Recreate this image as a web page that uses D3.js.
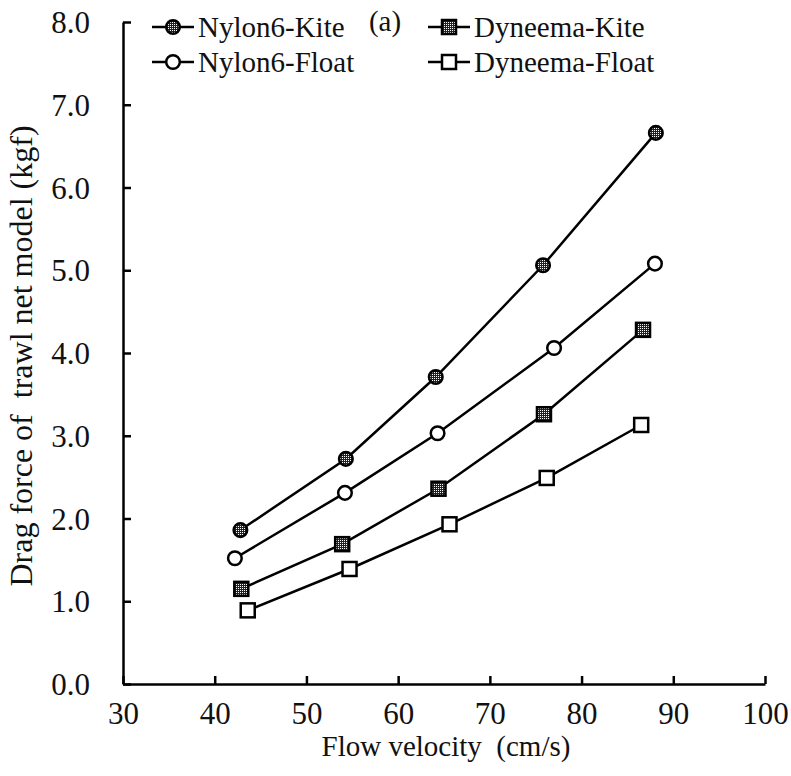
<!DOCTYPE html>
<html><head><meta charset="utf-8">
<script src="https://cdn.jsdelivr.net/npm/d3@7"></script>
<style>body{margin:0;background:#fff}svg{display:block}text{font-family:"Liberation Serif","Times New Roman",serif;fill:#111;white-space:pre}</style>
</head><body><div id="chart"></div>
<script>
const seriesNames = ["Nylon6-Kite","Dyneema-Kite","Nylon6-Float","Dyneema-Float"];
const nylonKiteV = [42.8,54.3,64.1,75.8,88.1];
const nylonKiteF = [1.86,2.72,3.71,5.06,6.66];
const nylonFloatV = [42.2,54.2,64.3,77.0,88.0];
const nylonFloatF = [1.52,2.31,3.03,4.06,5.08];
const dynKiteV = [42.9,53.9,64.4,75.9,86.7];
const dynKiteF = [1.15,1.69,2.36,3.26,4.28];
const dynFloatV = [43.6,54.7,65.6,76.2,86.5];
const dynFloatF = [0.89,1.39,1.93,2.49,3.13];
const xTicks = [30,40,50,60,70,80,90,100];
const yTicks = [0,1,2,3,4,5,6,7,8];

const W=791,H=776;
const FS_TICK=31, FS_LEG=29, FS_XT=29, FS_YT=32;
const svg=d3.select("#chart").append("svg").attr("width",W).attr("height",H);
const defs=svg.append("defs");
const pat=defs.append("pattern").attr("id","dots").attr("patternUnits","userSpaceOnUse").attr("width",2).attr("height",2);
pat.append("rect").attr("width",2).attr("height",2).attr("fill","#222");
pat.append("rect").attr("width",1).attr("height",1).attr("fill","#fff");

const x=d3.scaleLinear().domain([30,100]).range([123,765]);
const y=d3.scaleLinear().domain([0,8]).range([684,22]);

const xAxis=svg.append("g").attr("transform","translate(0,684)")
  .call(d3.axisBottom(x).tickValues(xTicks).tickSizeInner(-8).tickSizeOuter(0).tickPadding(18).tickFormat(d3.format("d")));
const yAxis=svg.append("g").attr("transform","translate(123,0)")
  .call(d3.axisLeft(y).tickValues(yTicks).tickSizeInner(-8).tickSizeOuter(0).tickPadding(33).tickFormat(d3.format(".1f")));
[xAxis,yAxis].forEach(a=>{
  a.attr("font-size",FS_TICK).attr("font-family","'Liberation Serif',serif");
  a.select(".domain").attr("stroke","#000").attr("stroke-width",2.5);
  a.selectAll(".tick line").attr("stroke","#000").attr("stroke-width",2.5);
  a.selectAll(".tick text").attr("font-size",FS_TICK).attr("fill","#111");
});
xAxis.selectAll(".tick text").attr("dy","0.71em");
yAxis.selectAll(".tick text").attr("dy","0.34em");

svg.append("text").attr("x",446).attr("y",756).attr("text-anchor","middle").attr("font-size",FS_XT)
  .text("Flow velocity  (cm/s)");
svg.append("text").attr("transform","translate(32,356) rotate(-90)").attr("text-anchor","middle").attr("font-size",FS_YT)
  .text("Drag force of  trawl net model (kgf)");
svg.append("text").attr("x",385).attr("y",31).attr("text-anchor","middle").attr("font-size",FS_LEG).text("(a)");

const series=[
  {name:seriesNames[0],v:nylonKiteV,f:nylonKiteF,shape:"circle",fill:"url(#dots)"},
  {name:seriesNames[1],v:dynKiteV,f:dynKiteF,shape:"square",fill:"url(#dots)"},
  {name:seriesNames[2],v:nylonFloatV,f:nylonFloatF,shape:"circle",fill:"#fff"},
  {name:seriesNames[3],v:dynFloatV,f:dynFloatF,shape:"square",fill:"#fff"}
];
const line=d3.line().x(d=>x(d[0])).y(d=>y(d[1]));
function marker(g,cx,cy,s){
  if(s.shape==="circle"){
    g.append("circle").attr("cx",cx).attr("cy",cy).attr("r",6.8).attr("fill",s.fill).attr("stroke","#000").attr("stroke-width",2.5);
  } else {
    g.append("rect").attr("x",cx-7).attr("y",cy-7).attr("width",14).attr("height",14).attr("fill",s.fill).attr("stroke","#000").attr("stroke-width",2.5);
  }
}
series.forEach(s=>{
  const pts=s.v.map((v,i)=>[v,s.f[i]]);
  svg.append("path").attr("d",line(pts)).attr("fill","none").attr("stroke","#000").attr("stroke-width",2.5);
  const g=svg.append("g");
  pts.forEach(p=>marker(g,x(p[0]),y(p[1]),s));
});
// legend
const legPos=[[152,27],[428,27],[152,62],[428,62]];
series.forEach((s,i)=>{
  const [lx,ly]=legPos[i];
  const g=svg.append("g");
  g.append("line").attr("x1",lx).attr("x2",lx+42).attr("y1",ly).attr("y2",ly).attr("stroke","#000").attr("stroke-width",2.5);
  marker(g,lx+21,ly,s);
  g.append("text").attr("x",lx+46).attr("y",ly+10).attr("font-size",FS_LEG).text(s.name);
});
</script></body></html>
